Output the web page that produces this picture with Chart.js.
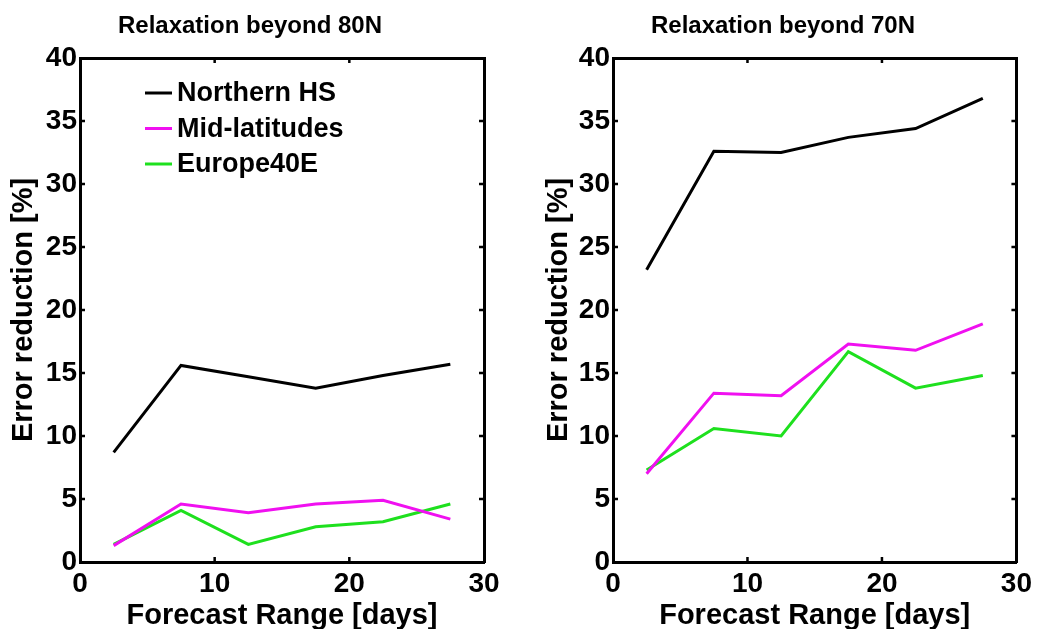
<!DOCTYPE html>
<html><head><meta charset="utf-8">
<script src="https://cdn.jsdelivr.net/npm/chart.js@4.4.0/dist/chart.umd.min.js"></script>
<style>
html,body{margin:0;padding:0;background:#fff;width:1037px;height:629px;overflow:hidden;}
canvas{position:absolute;top:0;}
</style></head><body>
<canvas id="c1" width="518" height="629" style="left:0px"></canvas>
<canvas id="c2" width="519" height="629" style="left:518px"></canvas>
<script>
// ---- data ----
const forecastDays = [2.5, 7.5, 12.5, 17.5, 22.5, 27.5];
const seriesLabels = ['Northern HS', 'Mid-latitudes', 'Europe40E'];
const panelTitles = ['Relaxation beyond 80N', 'Relaxation beyond 70N'];
const xTickValues = [0, 10, 20, 30];
const yTickValues = [0, 5, 10, 15, 20, 25, 30, 35, 40];
// Relaxation beyond 80N
const northernHS80 = [8.7, 15.6, 14.7, 13.8, 14.8, 15.7];
const midLat80     = [1.3, 4.6, 3.9, 4.6, 4.9, 3.4];
const europe80     = [1.4, 4.1, 1.4, 2.8, 3.2, 4.6];
// Relaxation beyond 70N
const northernHS70 = [23.2, 32.6, 32.5, 33.7, 34.4, 36.8];
const midLat70     = [7.0, 13.4, 13.2, 17.3, 16.8, 18.9];
const europe70     = [7.3, 10.6, 10.0, 16.7, 13.8, 14.8];

const seriesColors = ['#000000', '#f010f0', '#1ee01e'];
const FONT = '"Liberation Sans", Arial, Helvetica, sans-serif';

const innerTicks = {
  id: 'innerTicks',
  afterDatasetsDraw(chart) {
    const {ctx, chartArea: a, scales: {x, y}} = chart;
    ctx.save();
    ctx.strokeStyle = '#000'; ctx.lineWidth = 2.5;
    x.ticks.forEach(t => {
      if (t.value <= x.min || t.value >= x.max) return;
      const px = x.getPixelForValue(t.value);
      ctx.beginPath();
      ctx.moveTo(px, a.bottom); ctx.lineTo(px, a.bottom - 5);
      ctx.moveTo(px, a.top); ctx.lineTo(px, a.top + 5);
      ctx.stroke();
    });
    y.ticks.forEach(t => {
      if (t.value <= y.min || t.value >= y.max) return;
      const py = y.getPixelForValue(t.value);
      ctx.beginPath();
      ctx.moveTo(a.left, py); ctx.lineTo(a.left + 5, py);
      ctx.moveTo(a.right, py); ctx.lineTo(a.right - 5, py);
      ctx.stroke();
    });
    ctx.restore();
  }
};

const boxLegend = {
  id: 'boxLegend',
  afterDatasetsDraw(chart, args, opts) {
    if (!opts.show) return;
    const {ctx, chartArea: a} = chart;
    ctx.save();
    ctx.font = 'bold ' + opts.fontSize + 'px ' + FONT;
    ctx.textBaseline = 'middle'; ctx.textAlign = 'left';
    chart.data.datasets.forEach((ds, i) => {
      const yy = a.top + opts.top + i * opts.rowGap;
      const x0 = a.left + opts.left;
      ctx.strokeStyle = ds.borderColor; ctx.lineWidth = 3;
      ctx.beginPath(); ctx.moveTo(x0, yy); ctx.lineTo(x0 + opts.lineLen, yy); ctx.stroke();
      ctx.fillStyle = '#000';
      ctx.fillText(ds.label, x0 + opts.lineLen + 5, yy + 1);
    });
    ctx.restore();
  }
};

function makeChart(id, title, series, cfg) {
  const datasets = series.map((vals, i) => ({
    label: seriesLabels[i],
    data: forecastDays.map((d, k) => ({x: d, y: vals[k]})),
    borderColor: seriesColors[i],
    backgroundColor: seriesColors[i],
    borderWidth: 3,
    pointRadius: 0,
    tension: 0,
    fill: false
  }));
  const fixW = w => s => { s.width = w; };
  const fixH = h => s => { s.height = h; };
  const hiddenAxis = (pos, fit) => ({
    type: 'linear', position: pos, display: true,
    min: 0, max: pos === 'top' ? 30 : 40,
    ticks: {display: false},
    grid: {display: true, drawOnChartArea: false, drawTicks: false},
    border: {display: true, color: '#000', width: 3},
    afterFit: fit
  });
  return new Chart(document.getElementById(id), {
    type: 'line',
    data: {datasets},
    options: {
      responsive: false,
      animation: false,
      devicePixelRatio: 1,
      layout: {padding: cfg.padding},
      plugins: {
        legend: {display: false},
        tooltip: {enabled: false},
        title: {
          display: true, text: title, color: '#000',
          font: {family: FONT, size: 24, weight: 'bold', lineHeight: 1.2},
          padding: {top: 12, bottom: 0}
        },
        boxLegend: cfg.legend
      },
      scales: {
        x: {
          type: 'linear', position: 'bottom', min: 0, max: 30,
          afterBuildTicks: s => { s.ticks = xTickValues.map(v => ({value: v})); },
          ticks: {color: '#000', font: {family: FONT, size: 28, weight: 'bold'}, padding: 5, maxRotation: 0},
          grid: {display: true, drawOnChartArea: false, drawTicks: false},
          border: {display: true, color: '#000', width: 3},
          title: {display: true, text: 'Forecast Range [days]', color: '#000',
                  font: {family: FONT, size: 29, weight: 'bold', lineHeight: 0.9},
                  padding: {top: 0, bottom: 0}},
          afterFit: fixH(67)
        },
        y: {
          type: 'linear', position: 'left', min: 0, max: 40,
          afterBuildTicks: s => { s.ticks = yTickValues.map(v => ({value: v})); },
          ticks: {color: '#000', font: {family: FONT, size: 28, weight: 'bold'}, padding: 3},
          grid: {display: true, drawOnChartArea: false, drawTicks: false},
          border: {display: true, color: '#000', width: 3},
          title: {display: true, text: 'Error reduction [%]', color: '#000',
                  font: {family: FONT, size: 29, weight: 'bold', lineHeight: 1.0},
                  padding: {top: cfg.yTitlePad, bottom: 0}},
          afterFit: fixW(cfg.yWidth)
        },
        x2: hiddenAxis('top', fixH(58 - 12 - 28.8)),
        y2: hiddenAxis('right', fixW(cfg.y2Width))
      }
    },
    plugins: [innerTicks, boxLegend]
  });
}

makeChart('c1', panelTitles[0], [northernHS80, midLat80, europe80], {
  padding: {left: 0, right: 18, top: 0, bottom: 0},
  yWidth: 80, y2Width: 16, yTitlePad: 9,
  legend: {show: true, left: 65, top: 35, rowGap: 35.5, lineLen: 27, fontSize: 27}
});
makeChart('c2', panelTitles[1], [northernHS70, midLat70, europe70], {
  padding: {left: 11, right: 0, top: 0, bottom: 0},
  yWidth: 84, y2Width: 20, yTitlePad: 15,
  legend: {show: false}
});
</script>
</body></html>
